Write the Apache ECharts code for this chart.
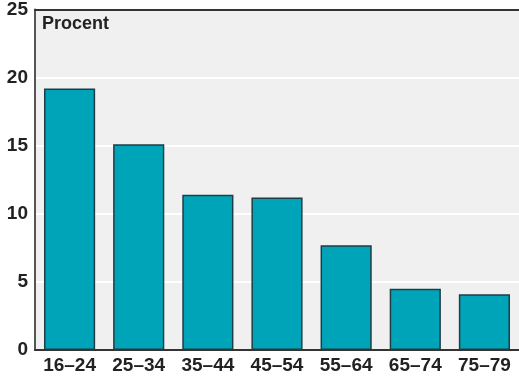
<!DOCTYPE html>
<html><head><meta charset="utf-8">
<script src="https://cdn.jsdelivr.net/npm/echarts@6/dist/echarts.min.js"></script>
<style>html,body{margin:0;padding:0;background:#fff}#c{width:519px;height:377px}</style>
</head><body><div id="c"></div>
<script>
const categories = ['16–24','25–34','35–44','45–54','55–64','65–74','75–79'];
const values = [19.2, 15.1, 11.4, 11.2, 7.7, 4.5, 4.1];
const yTicks = [0, 5, 10, 15, 20, 25];
const unitLabel = 'Procent';

const chart = echarts.init(document.getElementById('c'), null, {renderer:'canvas'});
const font = 'Liberation Sans, Arial, sans-serif';
chart.setOption({
  animation:false,
  grid:{left:35,top:9,width:486,bottom:27,show:true,backgroundColor:'#f0f0f0',borderWidth:0},
  xAxis:[{
    type:'category', data:categories, position:'bottom',
    axisLine:{show:true,lineStyle:{color:'#333',width:2}},
    axisTick:{show:false},
    axisLabel:{color:'#222',fontFamily:font,fontWeight:'bold',fontSize:19,margin:6},
    splitLine:{show:false}
  },{
    type:'category', data:categories, position:'top',
    axisLine:{show:true,lineStyle:{color:'#333',width:2}},
    axisTick:{show:false}, axisLabel:{show:false}
  }],
  yAxis:{
    type:'value', min:yTicks[0], max:yTicks[yTicks.length-1], interval:5,
    axisLine:{show:true,lineStyle:{color:'#555',width:2}},
    axisTick:{show:false},
    axisLabel:{color:'#222',fontFamily:font,fontWeight:'bold',fontSize:19,margin:7},
    splitLine:{show:true,lineStyle:{color:'#ffffff',width:2}}
  },
  graphic:[{type:'text',left:42,top:15,style:{text:unitLabel,fill:'#222',font:'bold 18px '+font}}],
  series:[{
    type:'bar', data:values, barWidth:'74%', xAxisIndex:0,
    itemStyle:{color:'#00a4b9',borderColor:'#1f3d44',borderWidth:1.5}
  }]
});
</script></body></html>
